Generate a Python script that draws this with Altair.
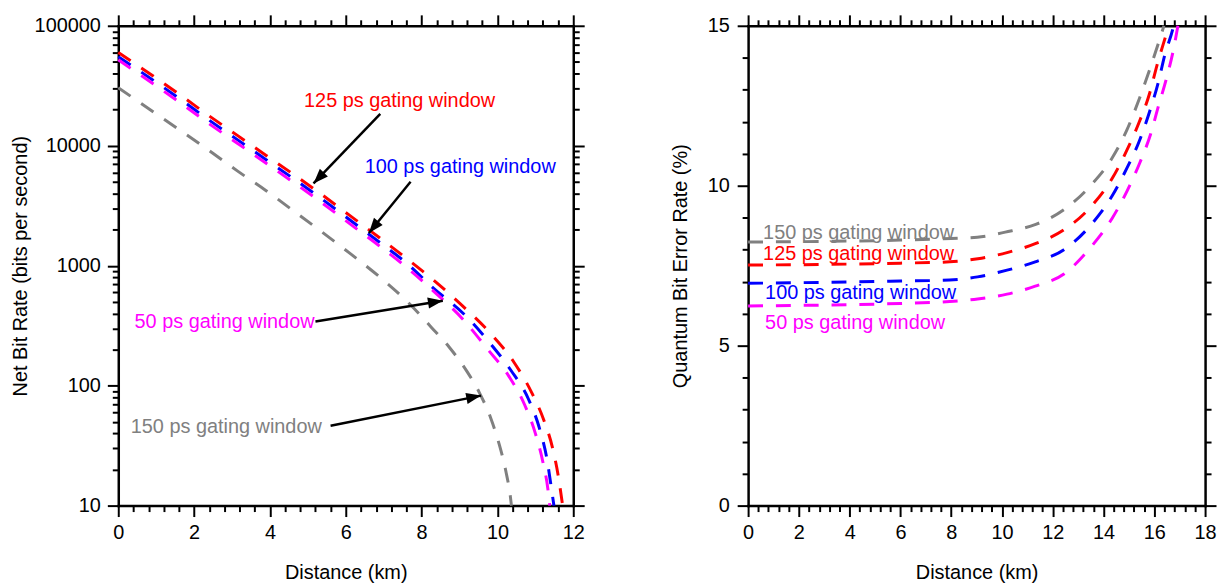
import math
import altair as alt
import pandas as pd

# ---------------- plot sizes ----------------
W_L, W_R, H = 458, 460, 483

SERIES = ["150 ps gating window", "125 ps gating window",
          "100 ps gating window", "50 ps gating window"]
COLORS = ["#808080", "#FF0000", "#0000FF", "#FF00FF"]

# ---------------- left panel: net bit rate (log) ----------------
rate_km_150 = [0, 0.88, 1.64, 2.39, 3.14, 3.9, 4.65, 5.38, 6.12, 6.86, 7.6, 8.26,
               8.73, 9.2, 9.52, 9.82, 10.04, 10.22, 10.34, 10.37]
rate_val_150 = [30500, 19600, 13400, 9150, 6170, 4220, 2820, 1900, 1260, 822, 510,
                306, 209, 131, 88, 54, 33, 19.5, 12, 10]
rate_km_125 = [0, 0.93, 1.67, 2.39, 3.14, 3.9, 4.65, 5.38, 6.12, 6.9, 7.62, 8.37,
               9.1, 9.83, 10.44, 10.9, 11.22, 11.45, 11.6, 11.72]
rate_val_125 = [60000, 37900, 26000, 17800, 12200, 8300, 5690, 3890, 2600, 1700,
                1140, 733, 456, 270, 156, 88, 52, 30.6, 18, 10]
rate_km_100 = [0, 0.93, 1.67, 2.39, 3.14, 3.9, 4.65, 5.38, 6.12, 6.9, 7.62, 8.31,
               9.1, 9.77, 10.35, 10.82, 11.1, 11.3, 11.43, 11.49]
rate_val_100 = [55300, 35000, 24000, 16400, 11250, 7650, 5240, 3580, 2390, 1560,
                1040, 650, 400, 233, 135, 77, 45, 25, 13.5, 10]
rate_km_50 = [0, 0.93, 1.67, 2.39, 3.14, 3.9, 4.65, 5.38, 6.12, 6.9, 7.62, 8.35,
              9.1, 9.72, 10.3, 10.72, 11.0, 11.2, 11.33, 11.38]
rate_val_50 = [52000, 32700, 22400, 15300, 10500, 7150, 4880, 3330, 2220, 1450,
               960, 600, 355, 205, 120, 69, 40, 23, 13.8, 10]

# annotations (left)
ann_L_text = ["125 ps gating window", "100 ps gating window",
              "50 ps gating window", "150 ps gating window"]
ann_L_color = ["#FF0000", "#0000FF", "#FF00FF", "#808080"]
ann_L_x = [4.9, 6.5, 0.43, 0.33]
ann_L_y = [23700, 6670, 341, 45]
arrow_L_x0 = [6.91, 7.71, 5.2, 5.6]
arrow_L_y0 = [18400, 5010, 342, 46.4]
arrow_L_x1 = [5.15, 6.61, 8.56, 9.57]
arrow_L_y1 = [4850, 1875, 511, 82.6]

# ---------------- right panel: QBER ----------------
qber_km_150 = [0, 3, 6, 8, 9.03, 10.13, 11.33, 12.44, 13.52, 14.35, 14.93, 15.41,
               15.83, 16.16, 16.38]
qber_val_150 = [8.24, 8.26, 8.3, 8.35, 8.39, 8.55, 8.79, 9.25, 10.03, 10.88, 11.76,
                12.72, 13.66, 14.45, 15.0]
qber_km_125 = [0, 3, 6, 7.94, 9.05, 10.2, 11.31, 12.44, 13.52, 14.35, 14.92, 15.41,
               15.82, 16.1, 16.48, 16.57]
qber_val_125 = [7.52, 7.54, 7.58, 7.62, 7.72, 7.91, 8.19, 8.62, 9.36, 10.24, 11.11,
                12.0, 12.9, 13.75, 14.76, 15.0]
qber_km_100 = [0, 3, 6, 7.94, 9.04, 10.2, 11.31, 12.44, 13.52, 14.33, 14.92, 15.41,
               15.82, 16.16, 16.42, 16.72, 16.76]
qber_val_100 = [6.95, 6.98, 7.02, 7.05, 7.15, 7.36, 7.62, 8.0, 8.79, 9.67, 10.55,
                11.4, 12.33, 13.24, 14.11, 14.87, 15.0]
qber_km_50 = [0, 3, 6, 7.94, 9.04, 10.2, 11.31, 12.44, 13.52, 14.33, 14.93, 15.43,
              15.85, 16.16, 16.48, 16.75, 16.93]
qber_val_50 = [6.24, 6.27, 6.32, 6.38, 6.46, 6.61, 6.86, 7.24, 8.1, 8.97, 9.84,
               10.72, 11.6, 12.48, 13.36, 14.24, 15.0]

ann_R_text = ["150 ps gating window", "125 ps gating window",
              "100 ps gating window", "50 ps gating window"]
ann_R_color = ["#808080", "#FF0000", "#0000FF", "#FF00FF"]
ann_R_x = [0.59, 0.59, 0.67, 0.67]
ann_R_y = [8.51, 7.88, 6.64, 5.72]

# tick values
x_ticks_L = [round(i * 0.4, 1) for i in range(31)]
y_ticks_L = [m * 10 ** e for e in range(1, 5) for m in range(1, 10)] + [100000]
x_ticks_R = [round(i * 0.4, 1) for i in range(46)]
y_ticks_R = list(range(16))

FONT = "Liberation Sans"


def long_df(xs_list, ys_list):
    rows = []
    for name, xs, ys in zip(SERIES, xs_list, ys_list):
        for a, b in zip(xs, ys):
            rows.append({"series": name, "km": a, "val": b})
    return pd.DataFrame(rows)


df_rate = long_df([rate_km_150, rate_km_125, rate_km_100, rate_km_50],
                  [rate_val_150, rate_val_125, rate_val_100, rate_val_50])
df_qber = long_df([qber_km_150, qber_km_125, qber_km_100, qber_km_50],
                  [qber_val_150, qber_val_125, qber_val_100, qber_val_50])

df_ann_L = pd.DataFrame({"t": ann_L_text, "c": ann_L_color, "x": ann_L_x, "y": ann_L_y})
df_ann_R = pd.DataFrame({"t": ann_R_text, "c": ann_R_color, "x": ann_R_x, "y": ann_R_y})

# arrow head angles (screen space) from the scale geometry
angles = []
for x0, y0, x1, y1 in zip(arrow_L_x0, arrow_L_y0, arrow_L_x1, arrow_L_y1):
    dx = (x1 - x0) * W_L / 12.0
    dy = -(math.log10(y1) - math.log10(y0)) * H / 4.0
    angles.append(math.degrees(math.atan2(dx, -dy)) % 360)
df_arrow_L = pd.DataFrame({"x0": arrow_L_x0, "y0": arrow_L_y0,
                           "x1": arrow_L_x1, "y1": arrow_L_y1, "ang": angles})


def axis(orient, values, test, title=None, labels=True, title_padding=10,
         label_padding=6):
    kw = dict(orient=orient, values=values, tickCount=200, tickMinStep=0.1,
              tickSize={"condition": {"test": test, "value": 11}, "value": 6},
              grid=False, labelOverlap=False, labelFlush=False)
    if labels:
        kw.update(labels=True,
                  labelExpr=f"({test}) ? format(datum.value, 'd') : ''",
                  labelPadding=label_padding)
    else:
        kw["labels"] = False
    if title:
        kw.update(title=title, titlePadding=title_padding)
    else:
        kw["title"] = None
    return alt.Axis(**kw)


color_scale = alt.Scale(domain=SERIES, range=COLORS)
DASH = [15, 13]

# ---------------- left chart ----------------
xs_L = alt.Scale(domain=[0, 12], nice=False, zero=False)
ys_L = alt.Scale(type="log", domain=[10, 100000], nice=False)
maj_x_L = "datum.value % 2 === 0"
maj_y_L = "indexof([10,100,1000,10000,100000], datum.value) >= 0"

lines_L = alt.Chart(df_rate).mark_line(strokeDash=DASH, strokeWidth=3,
                                       interpolate="monotone").encode(
    x=alt.X("km:Q", scale=xs_L,
            axis=axis("bottom", x_ticks_L, maj_x_L, "Distance (km)", title_padding=20)),
    y=alt.Y("val:Q", scale=ys_L,
            axis=axis("left", y_ticks_L, maj_y_L, "Net Bit Rate (bits per second)",
                      title_padding=4, label_padding=7)),
    color=alt.Color("series:N", scale=color_scale, legend=None),
)
frame_L = alt.Chart(df_rate).mark_point(opacity=0).encode(
    x=alt.X("km:Q", scale=xs_L, axis=axis("top", x_ticks_L, maj_x_L, labels=False)),
    y=alt.Y("val:Q", scale=ys_L, axis=axis("right", y_ticks_L, maj_y_L, labels=False)),
)
text_L = alt.Chart(df_ann_L).mark_text(align="left", baseline="middle", fontSize=20,
                                       font=FONT).encode(
    x=alt.X("x:Q", scale=xs_L, axis=None),
    y=alt.Y("y:Q", scale=ys_L, axis=None),
    text="t:N",
    color=alt.Color("c:N", scale=None),
)
rule_L = alt.Chart(df_arrow_L).mark_rule(color="black", strokeWidth=2.5).encode(
    x=alt.X("x0:Q", scale=xs_L, axis=None),
    y=alt.Y("y0:Q", scale=ys_L, axis=None),
    x2="x1:Q",
    y2="y1:Q",
)
head_L = alt.Chart(df_arrow_L).mark_point(shape="M0,0L-0.75,2L0.75,2Z", filled=True,
                                          size=225, color="black", opacity=1,
                                          strokeWidth=0).encode(
    x=alt.X("x1:Q", scale=xs_L, axis=None),
    y=alt.Y("y1:Q", scale=ys_L, axis=None),
    angle=alt.Angle("ang:Q", scale=None),
)
left = alt.layer(lines_L, frame_L, text_L, rule_L, head_L).resolve_axis(
    x="independent", y="independent").properties(width=W_L, height=H)

# ---------------- right chart ----------------
xs_R = alt.Scale(domain=[0, 18], nice=False, zero=False)
ys_R = alt.Scale(domain=[0, 15], nice=False, zero=False)
maj_x_R = "datum.value % 2 === 0"
maj_y_R = "datum.value % 5 === 0"

lines_R = alt.Chart(df_qber).mark_line(strokeDash=DASH, strokeWidth=3,
                                       interpolate="monotone").encode(
    x=alt.X("km:Q", scale=xs_R,
            axis=axis("bottom", x_ticks_R, maj_x_R, "Distance (km)", title_padding=20)),
    y=alt.Y("val:Q", scale=ys_R,
            axis=axis("left", y_ticks_R, maj_y_R, "Quantum Bit Error Rate (%)",
                      title_padding=17, label_padding=8)),
    color=alt.Color("series:N", scale=color_scale, legend=None),
)
frame_R = alt.Chart(df_qber).mark_point(opacity=0).encode(
    x=alt.X("km:Q", scale=xs_R, axis=axis("top", x_ticks_R, maj_x_R, labels=False)),
    y=alt.Y("val:Q", scale=ys_R, axis=axis("right", y_ticks_R, maj_y_R, labels=False)),
)
text_R = alt.Chart(df_ann_R).mark_text(align="left", baseline="middle", fontSize=20,
                                       font=FONT).encode(
    x=alt.X("x:Q", scale=xs_R, axis=None),
    y=alt.Y("y:Q", scale=ys_R, axis=None),
    text="t:N",
    color=alt.Color("c:N", scale=None),
)
right = alt.layer(text_R, lines_R, frame_R).resolve_axis(
    x="independent", y="independent").properties(width=W_R, height=H)

chart = alt.hconcat(left, right, spacing=85).properties(
    padding={"left": 2, "top": 4, "right": 0, "bottom": 0}
).configure_view(stroke=None).configure_axis(
    labelFont=FONT, labelFontSize=20, labelColor="black",
    titleFont=FONT, titleFontSize=20, titleFontWeight="normal", titleColor="black",
    domainColor="black", domainWidth=2.5, domainCap="square",
    tickColor="black", tickWidth=2,
)

chart.save("out.html", embed_options={"renderer": "svg", "actions": False})
